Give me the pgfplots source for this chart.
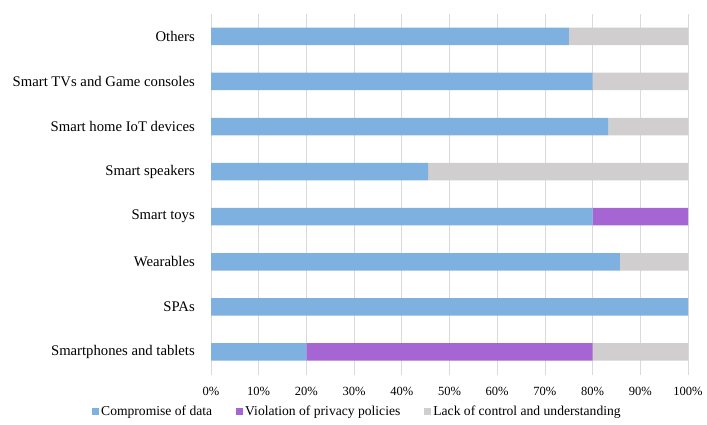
\documentclass[border=0pt]{standalone}
\usepackage{fontspec}
\setmainfont{Liberation Serif}
\usepackage{pgfplots}
\pgfplotsset{compat=1.18}
\definecolor{cblue}{HTML}{7EB0E0}
\definecolor{cpurple}{HTML}{A566D3}
\definecolor{cgray}{HTML}{D0CECE}
\definecolor{gridc}{HTML}{DADADA}
\begin{document}
\begin{tikzpicture}
\path[use as bounding box] (0,0) rectangle (707bp,425bp);
\begin{axis}[
  at={(211bp,50.5bp)}, anchor=south west,
  scale only axis, width=477bp, height=360.7bp,
  xbar stacked, bar width=17.5bp,
  xmin=0, xmax=100, ymin=-0.5, ymax=7.5,
  ytick={0,...,7},
  yticklabels={Smartphones and tablets,SPAs,Wearables,Smart toys,Smart speakers,Smart home IoT devices,Smart TVs and Game consoles,Others},
  xtick={0,10,...,100},
  xticklabel={\pgfmathprintnumber{\tick}\%},
  /pgf/number format/assume math mode=true,
  xmajorgrids, major grid style={color=gridc, line width=0.8bp},
  axis line style={draw=none},
  major tick length=0pt, tick style={draw=none},
  yticklabel style={font=\fontsize{14.7bp}{16bp}\selectfont, inner sep=0pt, xshift=-16bp},
  xticklabel style={font=\fontsize{12.5bp}{14bp}\selectfont, inner sep=0pt, anchor=center, yshift=-16.5bp},
  legend columns=3,
  legend style={at={(0.307,-0.1012)}, anchor=center, draw=none, fill=none,
    font=\fontsize{13.6bp}{15bp}\selectfont,
    /tikz/every even column/.append style={column sep=22bp}},
]
\addplot[fill=cblue, draw=none, legend image code/.code={\fill[cblue] (0bp,-4bp) rectangle (7bp,3bp);}] coordinates {
(20,0) (100,1) (85.7,2) (80,3) (45.5,4) (83.3,5) (80,6) (75,7)};
\addplot[fill=cpurple, draw=none, legend image code/.code={\fill[cpurple] (0bp,-4bp) rectangle (7bp,3bp);}] coordinates {
(60,0) (0,1) (0,2) (20,3) (0,4) (0,5) (0,6) (0,7)};
\addplot[fill=cgray, draw=none, legend image code/.code={\fill[cgray] (0bp,-4bp) rectangle (7bp,3bp);}] coordinates {
(20,0) (0,1) (14.3,2) (0,3) (54.5,4) (16.7,5) (20,6) (25,7)};
\legend{Compromise of data, Violation of privacy policies, Lack of control and understanding}
\end{axis}
\end{tikzpicture}
\end{document}
